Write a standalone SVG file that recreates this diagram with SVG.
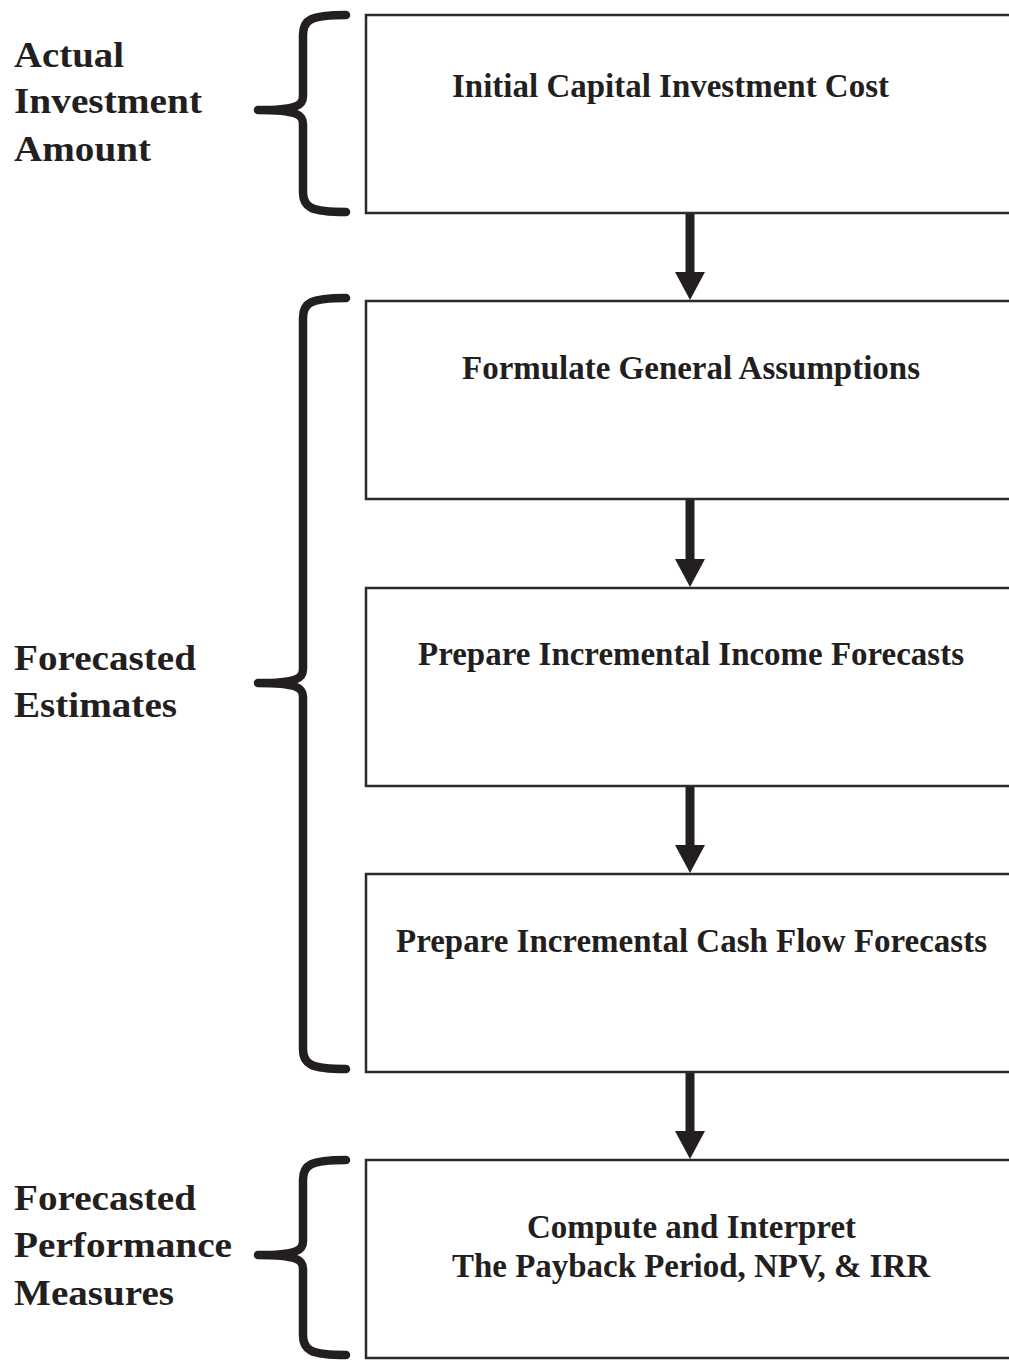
<svg xmlns="http://www.w3.org/2000/svg" width="1009" height="1360" viewBox="0 0 1009 1360">
<defs>
<style>
.box{fill:#fff;stroke:#2b2b2b;stroke-width:2.5}
.t{font-family:"Liberation Serif","Times New Roman",serif;font-weight:bold;font-size:36px;fill:#231f20}
.bt{font-family:"Liberation Serif","Times New Roman",serif;font-weight:bold;font-size:34px;fill:#231f20}
.brace{fill:none;stroke:#231f20;stroke-width:8.5;stroke-linecap:round;stroke-linejoin:round}
.shaft{stroke:#231f20;stroke-width:9}
.head{fill:#231f20}
</style>
</defs>
<rect width="1009" height="1360" fill="#fff"/>
<g id="connectors">
<line class="shaft" x1="690" y1="214" x2="690" y2="274"/>
<polygon class="head" points="675,272 705,272 690,300"/>
<line class="shaft" x1="690" y1="500" x2="690" y2="561"/>
<polygon class="head" points="675,559 705,559 690,587"/>
<line class="shaft" x1="690" y1="787" x2="690" y2="847"/>
<polygon class="head" points="675,845 705,845 690,873"/>
<line class="shaft" x1="690" y1="1073" x2="690" y2="1133"/>
<polygon class="head" points="675,1131 705,1131 690,1159"/>
</g>
<g id="brace-actual">
<path class="brace" d="M346,15 C310,15 303,20 303,35 L303,96 C303,105 298,110 258,110 C298,110 303,115 303,124 L303,192 C303,207 310,212 346,212"/>
<text class="t" x="14" y="67" textLength="110" lengthAdjust="spacingAndGlyphs">Actual</text>
<text class="t" x="14" y="113" textLength="188" lengthAdjust="spacingAndGlyphs">Investment</text>
<text class="t" x="14" y="161" textLength="137" lengthAdjust="spacingAndGlyphs">Amount</text>
</g>
<g id="brace-forecasted">
<path class="brace" d="M346,298 C310,298 303,303 303,318 L303,669 C303,678 298,683 258,683 C298,683 303,688 303,697 L303,1049 C303,1064 310,1069 346,1069"/>
<text class="t" x="14" y="670" textLength="182" lengthAdjust="spacingAndGlyphs">Forecasted</text>
<text class="t" x="14" y="717" textLength="163" lengthAdjust="spacingAndGlyphs">Estimates</text>
</g>
<g id="brace-performance">
<path class="brace" d="M346,1160 C310,1160 303,1165 303,1180 L303,1241 C303,1250 298,1255 258,1255 C298,1255 303,1260 303,1269 L303,1335 C303,1350 310,1355 346,1355"/>
<text class="t" x="14" y="1210" textLength="182" lengthAdjust="spacingAndGlyphs">Forecasted</text>
<text class="t" x="14" y="1257" textLength="218" lengthAdjust="spacingAndGlyphs">Performance</text>
<text class="t" x="14" y="1305" textLength="160" lengthAdjust="spacingAndGlyphs">Measures</text>
</g>
<g id="node-initial">
<rect class="box" x="366" y="15" width="645" height="198"/>
<text class="bt" x="452" y="97" textLength="437" lengthAdjust="spacingAndGlyphs">Initial Capital Investment Cost</text>
</g>
<g id="node-assumptions">
<rect class="box" x="366" y="301" width="645" height="198"/>
<text class="bt" x="462" y="379" textLength="458" lengthAdjust="spacingAndGlyphs">Formulate General Assumptions</text>
</g>
<g id="node-income">
<rect class="box" x="366" y="588" width="645" height="198"/>
<text class="bt" x="418" y="665" textLength="546" lengthAdjust="spacingAndGlyphs">Prepare Incremental Income Forecasts</text>
</g>
<g id="node-cashflow">
<rect class="box" x="366" y="874" width="645" height="198"/>
<text class="bt" x="396" y="952" textLength="591" lengthAdjust="spacingAndGlyphs">Prepare Incremental Cash Flow Forecasts</text>
</g>
<g id="node-compute">
<rect class="box" x="366" y="1160" width="645" height="198"/>
<text class="bt" x="527" y="1238" textLength="329" lengthAdjust="spacingAndGlyphs">Compute and Interpret</text>
<text class="bt" x="452" y="1277" textLength="478" lengthAdjust="spacingAndGlyphs">The Payback Period, NPV, &amp; IRR</text>
</g>
</svg>
